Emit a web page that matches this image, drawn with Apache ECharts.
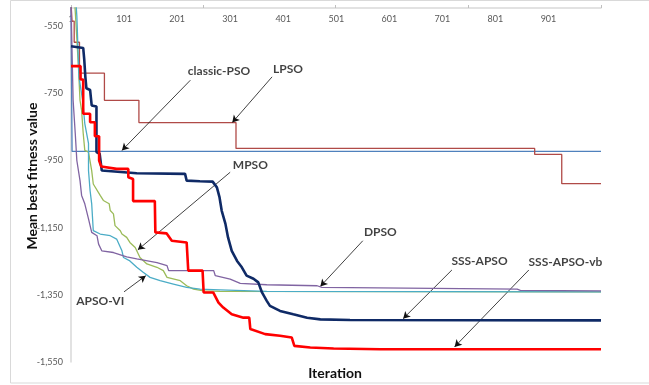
<!DOCTYPE html>
<html>
<head>
<meta charset="utf-8">
<script src="https://cdn.jsdelivr.net/npm/echarts@6/dist/echarts.min.js"></script>
<style>html,body{margin:0;padding:0;background:#fff}#c{width:649px;height:385px}</style>
</head>
<body>
<div id="c"></div>
<script>
// ---- data (iteration, mean best fitness) ----
var seriesNames = ['classic-PSO','LPSO','MPSO','APSO-VI','DPSO','SSS-APSO','SSS-APSO-vb'];
var classicPSO = [[1,-480],[3,-923],[1000,-923]];
var LPSO = [[1,-480],[3,-535],[7,-535],[7,-598],[17,-598],[17,-690],[64,-690],[64,-771],[129,-771],[129,-837],[312,-837],[312,-914],[875,-914],[875,-932],[926,-932],[926,-1019],[1000,-1019]];
var MPSO = [[1,-470],[8,-480],[10,-532],[15,-671],[18,-771],[21,-801],[24,-869],[27,-920],[34,-925],[40,-980],[43,-1020],[56,-1054],[62,-1069],[73,-1079],[75,-1099],[81,-1109],[84,-1144],[94,-1159],[97,-1169],[106,-1179],[112,-1194],[122,-1209],[131,-1239],[144,-1258],[163,-1268],[175,-1278],[182,-1298],[207,-1308],[219,-1323],[232,-1333],[251,-1338],[282,-1340],[1000,-1341]];
var APSOVI = [[1,-460],[10,-470],[12,-520],[16,-701],[23,-771],[27,-840],[34,-899],[34,-980],[37,-1040],[40,-1079],[43,-1159],[56,-1169],[75,-1174],[87,-1184],[97,-1219],[100,-1239],[112,-1249],[125,-1268],[137,-1283],[150,-1298],[169,-1308],[194,-1318],[219,-1328],[244,-1333],[282,-1335],[370,-1340],[1000,-1341]];
var DPSO = [[1,-480],[5,-771],[9,-869],[12,-950],[18,-1010],[21,-1054],[27,-1079],[34,-1124],[37,-1144],[40,-1164],[50,-1174],[53,-1199],[59,-1219],[81,-1224],[106,-1237],[125,-1243],[163,-1254],[182,-1263],[185,-1278],[270,-1278],[273,-1293],[301,-1303],[320,-1316],[370,-1320],[465,-1323],[474,-1328],[842,-1333],[848,-1337],[1000,-1338]];
var SSSAPSO = [[1,-610],[24,-615],[26,-650],[28,-700],[30,-735],[37,-740],[40,-786],[49,-789],[49,-925],[55,-930],[59,-980],[125,-988],[216,-990],[219,-1010],[244,-1012],[268,-1013],[276,-1030],[281,-1060],[285,-1099],[292,-1138],[297,-1179],[304,-1219],[314,-1249],[323,-1268],[332,-1293],[345,-1302],[354,-1313],[361,-1343],[370,-1368],[376,-1383],[395,-1398],[420,-1408],[446,-1418],[471,-1423],[527,-1425],[1000,-1426]];
var SSSAPSOvb = [[1,-669],[19,-669],[19,-709],[24,-709],[24,-811],[37,-811],[37,-836],[46,-836],[46,-878],[54,-878],[54,-950],[57,-950],[58,-968],[87,-975],[109,-975],[109,-1000],[118,-1005],[118,-1071],[159,-1071],[160,-1164],[181,-1167],[191,-1189],[219,-1194],[222,-1278],[249,-1278],[251,-1343],[269,-1343],[279,-1373],[288,-1388],[304,-1408],[326,-1418],[337,-1418],[339,-1452],[367,-1467],[395,-1472],[417,-1477],[422,-1502],[452,-1507],[496,-1510],[584,-1512],[1000,-1512]];

var xLabelValues = [1,101,201,301,401,501,601,701,801,901];
var xTickValues = [1,250,500,750,1000];
var yLabelValues = [-1550,-1350,-1150,-950,-750,-550];

// annotations (data coordinates)
var annoLabels = ['classic-PSO','LPSO','MPSO','DPSO','SSS-APSO','SSS-APSO-vb','APSO-VI'];
var annoTextPos = [[280,-684],[410,-678],[339,-965],[584,-1162],[771,-1249],[933,-1252],[56,-1368]];
var annoArrowFrom = [[226,-711],[380,-701],[301,-985],[551,-1189],[719,-1276],[864,-1276],[101,-1341]];
var annoArrowTo = [[97,-920],[305,-837],[127,-1216],[471,-1325],[627,-1421],[724,-1505],[142,-1293]];

var seriesData = [classicPSO, LPSO, MPSO, APSOVI, DPSO, SSSAPSO, SSSAPSOvb];
var colors = ['#4F81BD','#B04A47','#9BBB59','#4BACC6','#8064A2','#0F2A66','#FF0000'];
var widths = [1.3,1.3,1.3,1.3,1.3,2.6,2.6];

var FONT = 'Lato, "Open Sans", "Liberation Sans", sans-serif';
var chart = echarts.init(document.getElementById('c'), null, {renderer:'canvas'});

var series = seriesData.map(function(d,i){
  return {
    name: seriesNames[i], type:'line', data:d, showSymbol:false, symbol:'none',
    clip:true, lineStyle:{color:colors[i], width:widths[i]}, itemStyle:{color:colors[i]},
    emphasis:{disabled:true}, animation:false, z:2+i
  };
});

series.push({
  name:'annotations', type:'scatter', symbolSize:1, itemStyle:{color:'rgba(0,0,0,0)'},
  z:20, animation:false, silent:true,
  data: annoLabels.map(function(t,i){ return {name:t, value:annoTextPos[i]}; }),
  label:{show:true, position:'inside', formatter:'{b}', color:'#111', fontWeight:'bold', fontSize:12, fontFamily:FONT},
  markLine:{
    silent:true, animation:false, symbol:['none','arrow'], symbolSize:[6,7],
    label:{show:false},
    lineStyle:{color:'#111', width:0.8, type:'solid'},
    data: annoArrowFrom.map(function(f,i){ return [{coord:f},{coord:annoArrowTo[i]}]; })
  }
});

chart.setOption({
  animation:false,
  backgroundColor:'#fff',
  grid:{left:71, right:48, top:8, bottom:23, containLabel:false},
  xAxis:{
    type:'value', min:1, max:1000, position:'top',
    axisLine:{show:true, lineStyle:{color:'#d9d9d9', width:1.5}},
    axisTick:{show:true, customValues:xTickValues, length:3, inside:false, lineStyle:{color:'#bfbfbf'}},
    axisLabel:{show:true, inside:true, customValues:xLabelValues, margin:7, fontSize:9, color:'#595959', fontFamily:FONT},
    splitLine:{show:false}
  },
  yAxis:{
    type:'value', min:-1550, max:-496,
    axisLine:{show:true, lineStyle:{color:'#d9d9d9', width:1.5}},
    axisTick:{show:false},
    axisLabel:{show:true, customValues:yLabelValues, margin:8, fontSize:9, color:'#595959', fontFamily:FONT,
      formatter:function(v){ return Number(v).toLocaleString('en-US'); }},
    splitLine:{show:false}
  },
  graphic:[
    {type:'rect', z:-10, silent:true, shape:{x:10.5,y:0.5,width:700,height:382.5}, style:{fill:'none', stroke:'#d9d9d9', lineWidth:1}},
    {type:'text', x:32, y:176, rotation:Math.PI/2, silent:true,
      style:{text:'Mean best fitness value', font:'bold 14px '+FONT, fill:'#111', textAlign:'center', textVerticalAlign:'middle'}},
    {type:'text', x:335, y:373, silent:true,
      style:{text:'Iteration', font:'bold 14px '+FONT, fill:'#111', textAlign:'center', textVerticalAlign:'middle'}}
  ],
  series: series
});
</script>
</body>
</html>
